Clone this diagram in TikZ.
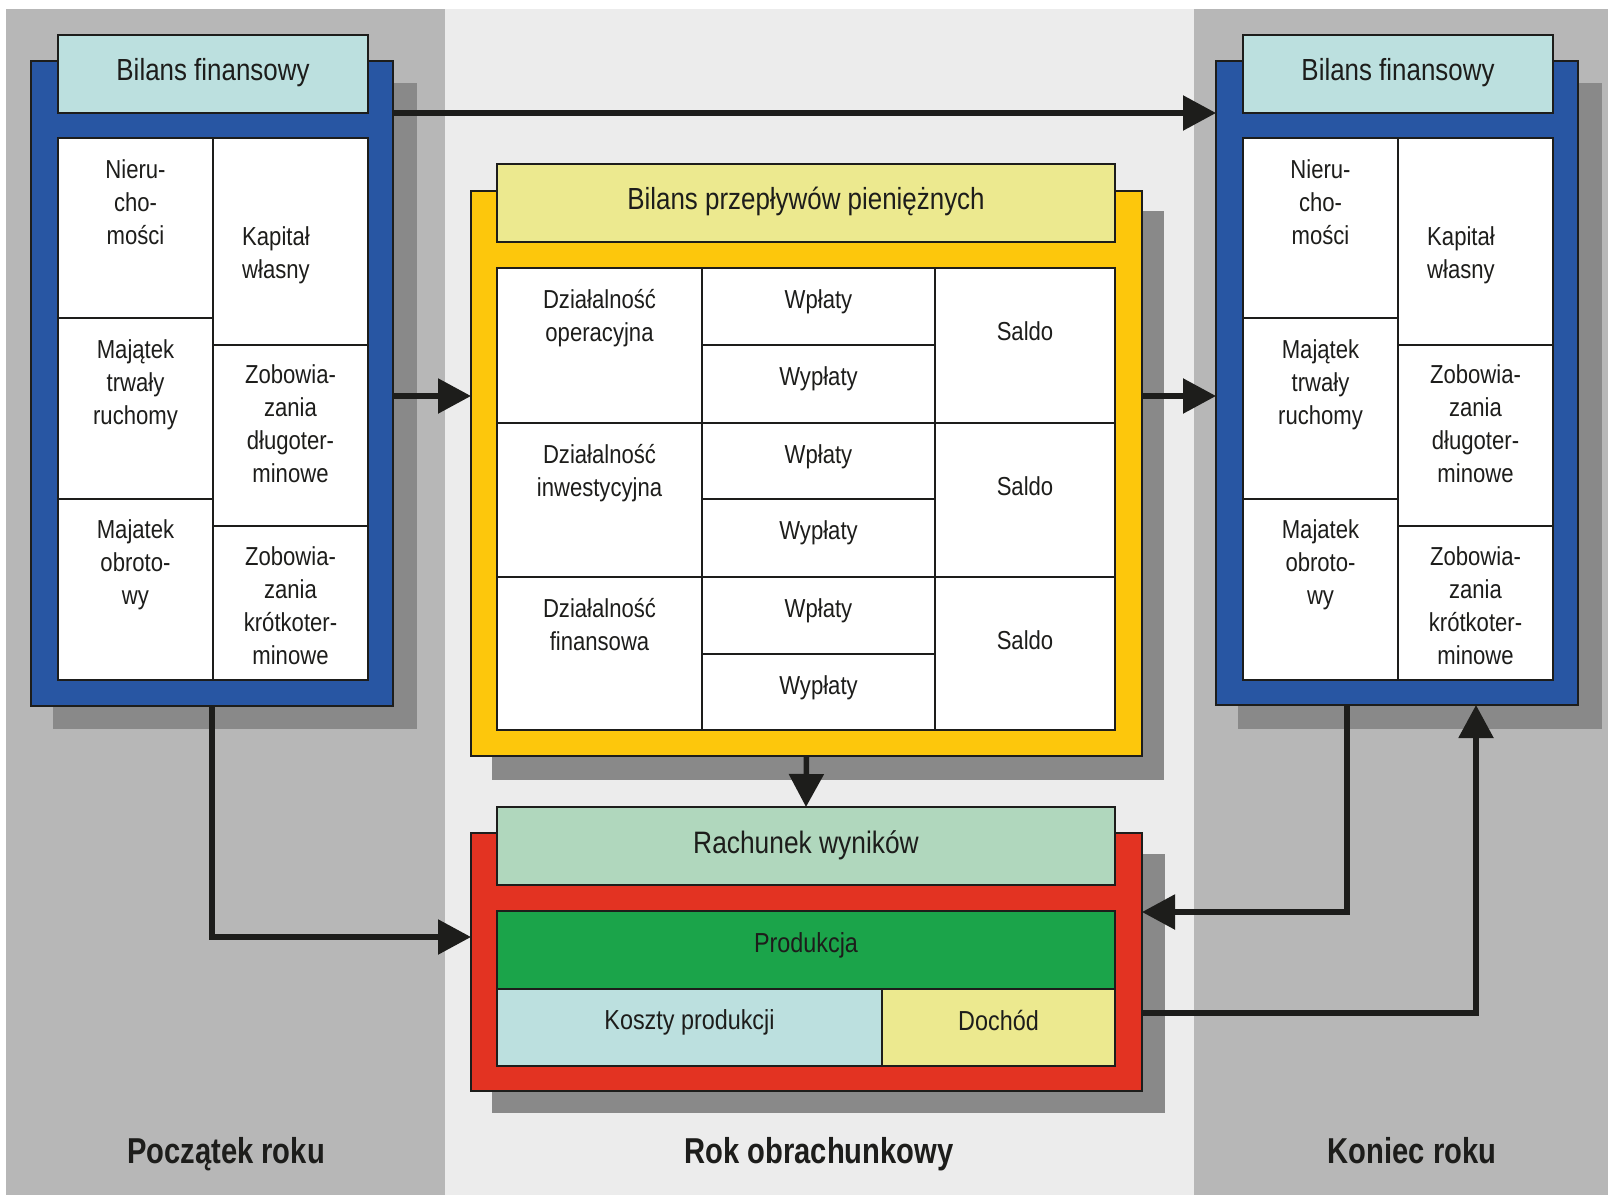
\documentclass[tikz,border=0pt]{standalone}
\usepackage{fontspec}
\setmainfont{Liberation Sans}[FakeStretch=0.85]
\newfontfamily\labelfont{Liberation Sans}[FakeStretch=0.81]
\usetikzlibrary{arrows.meta}
\definecolor{panelgray}{HTML}{B7B7B7}
\definecolor{panellight}{HTML}{ECECEC}
\definecolor{shadowgray}{HTML}{898989}
\definecolor{bilansblue}{HTML}{2856A3}
\definecolor{headteal}{HTML}{BCE0DF}
\definecolor{boxyellow}{HTML}{FDC70C}
\definecolor{headyellow}{HTML}{ECE98F}
\definecolor{boxred}{HTML}{E33322}
\definecolor{headgreen}{HTML}{B0D7BD}
\definecolor{prodgreen}{HTML}{1BA44A}
\definecolor{ink}{HTML}{1D1D1B}
\newcommand\mkbox[6][]{\node[#1, minimum width={(#5-#3)*1pt}, minimum height={(#6-#4)*1pt}] (#2) at ({(#3+#5)/2},{(#4+#6)/2}) {};}
\begin{document}
\begin{tikzpicture}[x=1pt,y=-1pt,
  frame/.style={draw=ink, line width=2.4pt, inner sep=0pt, outer sep=0pt},
  cellbox/.style={draw=ink, line width=2pt, fill=white, inner sep=0pt, outer sep=0pt},
  txt/.style={inner sep=0pt, outer sep=0pt, align=center, text=ink, anchor=north, font=\fontsize{26}{33}\selectfont},
  headtxt/.style={txt, font=\fontsize{30.5}{36}\selectfont},
  midtxt/.style={txt, font=\fontsize{27.5}{33}\selectfont},
  yeartxt/.style={txt, font=\labelfont\bfseries\fontsize{36}{40}\selectfont},
  conn/.style={draw=ink, line width=5.5pt, line join=miter},
  arr/.style={conn, -{Triangle[width=34pt,length=33pt]}}]
\useasboundingbox (0,0) rectangle (1608,1196);
\fill[white] (0,0) rectangle (1608,1196);
% panels
\fill[panelgray] (6,9) rectangle (445,1195);
\fill[panellight] (445,9) rectangle (1194,1195);
\fill[panelgray] (1194,9) rectangle (1608,1195);
% shadows
\fill[shadowgray] (53,83) rectangle (417,729);
\fill[shadowgray] (1238,83) rectangle (1602,729);
\fill[shadowgray] (492,211) rectangle (1164,780);
\fill[shadowgray] (492,854) rectangle (1165,1113);
% left balance
\mkbox[frame, fill=bilansblue]{lb}{31}{61}{393}{706}
\mkbox[frame, fill=headteal]{lbh}{58}{35}{368}{113}
\mkbox[cellbox]{lb1}{58}{138}{213}{318}
\mkbox[cellbox]{lb2}{58}{318}{213}{499}
\mkbox[cellbox]{lb3}{58}{499}{213}{680}
\mkbox[cellbox]{lb4}{213}{138}{368}{345}
\mkbox[cellbox]{lb5}{213}{345}{368}{526}
\mkbox[cellbox]{lb6}{213}{526}{368}{680}
% right balance
\mkbox[frame, fill=bilansblue]{rb}{1216}{61}{1578}{705}
\mkbox[frame, fill=headteal]{rbh}{1243}{35}{1553}{113}
\mkbox[cellbox]{rb1}{1243}{138}{1398}{318}
\mkbox[cellbox]{rb2}{1243}{318}{1398}{499}
\mkbox[cellbox]{rb3}{1243}{499}{1398}{680}
\mkbox[cellbox]{rb4}{1398}{138}{1553}{345}
\mkbox[cellbox]{rb5}{1398}{345}{1553}{526}
\mkbox[cellbox]{rb6}{1398}{526}{1553}{680}
% cash flow
\mkbox[frame, fill=boxyellow]{yb}{471}{191}{1142}{756}
\mkbox[frame, fill=headyellow]{ybh}{497}{164}{1115}{242}
\mkbox[cellbox]{d1}{497}{268}{702}{423}
\mkbox[cellbox]{w1}{702}{268}{935}{345}
\mkbox[cellbox]{v1}{702}{345}{935}{423}
\mkbox[cellbox]{s1}{935}{268}{1115}{423}
\mkbox[cellbox]{d2}{497}{423}{702}{577}
\mkbox[cellbox]{w2}{702}{423}{935}{499}
\mkbox[cellbox]{v2}{702}{499}{935}{577}
\mkbox[cellbox]{s2}{935}{423}{1115}{577}
\mkbox[cellbox]{d3}{497}{577}{702}{730}
\mkbox[cellbox]{w3}{702}{577}{935}{654}
\mkbox[cellbox]{v3}{702}{654}{935}{730}
\mkbox[cellbox]{s3}{935}{577}{1115}{730}
% income statement
\mkbox[frame, fill=boxred]{rdb}{471}{833}{1142}{1091}
\mkbox[frame, fill=headgreen]{rdh}{497}{807}{1115}{885}
\mkbox[frame, fill=prodgreen]{prod}{497}{911}{1115}{989}
\mkbox[frame, fill=headteal]{koszt}{497}{989}{882}{1066}
\mkbox[frame, fill=headyellow]{doch}{882}{989}{1115}{1066}
% connectors
\coordinate (m1) at (0,396);
\coordinate (m2) at (212,937);
\coordinate (m3) at (1347,912);
\coordinate (m4) at (1476,1013);
\draw[arr] (lb.east |- lbh.south) -- (rb.west |- lbh.south);
\draw[arr] (lb.east |- m1) -- (yb.west |- m1);
\draw[arr] (yb.east |- m1) -- (rb.west |- m1);
\draw[arr] (yb.south) -- (rdh.north);
\draw[arr] (lb.south) |- (rdb.west |- m2);
\draw[arr] (rb.south -| m3) |- (rdb.east |- m3);
\draw[arr] (rdb.east |- m4) -| (rb.south -| m4);
% texts left
\node[headtxt] at ([yshift=-23pt]lbh.north) {Bilans finansowy};
\node[txt] at ([yshift=-22pt]lb1.north) {Nieru-\\cho-\\mości};
\node[txt] at ([yshift=-22pt]lb2.north) {Majątek\\trwały\\ruchomy};
\node[txt] at ([yshift=-21pt]lb3.north) {Majatek\\obroto-\\wy};
\node[txt] at ([xshift=-14.5pt,yshift=-89pt]lb4.north) {Kapitał\\własny};
\node[txt] at ([yshift=-20pt]lb5.north) {Zobowia-\\zania\\długoter-\\minowe};
\node[txt] at ([yshift=-21pt]lb6.north) {Zobowia-\\zania\\krótkoter-\\minowe};
% texts right
\node[headtxt] at ([yshift=-23pt]rbh.north) {Bilans finansowy};
\node[txt] at ([yshift=-22pt]rb1.north) {Nieru-\\cho-\\mości};
\node[txt] at ([yshift=-22pt]rb2.north) {Majątek\\trwały\\ruchomy};
\node[txt] at ([yshift=-21pt]rb3.north) {Majatek\\obroto-\\wy};
\node[txt] at ([xshift=-14.5pt,yshift=-89pt]rb4.north) {Kapitał\\własny};
\node[txt] at ([yshift=-20pt]rb5.north) {Zobowia-\\zania\\długoter-\\minowe};
\node[txt] at ([yshift=-21pt]rb6.north) {Zobowia-\\zania\\krótkoter-\\minowe};
% texts cash flow
\node[headtxt] at ([yshift=-23pt]ybh.north) {Bilans przepływów pieniężnych};
\node[txt] at ([yshift=-21pt]d1.north) {Działalność\\operacyjna};
\node[txt] at ([yshift=-21pt]d2.north) {Działalność\\inwestycyjna};
\node[txt] at ([yshift=-21pt]d3.north) {Działalność\\finansowa};
\node[txt] at ([yshift=-22pt]w1.north) {Wpłaty};
\node[txt] at ([yshift=-22pt]w2.north) {Wpłaty};
\node[txt] at ([yshift=-22pt]w3.north) {Wpłaty};
\node[txt] at ([yshift=-22pt]v1.north) {Wypłaty};
\node[txt] at ([yshift=-22pt]v2.north) {Wypłaty};
\node[txt] at ([yshift=-22pt]v3.north) {Wypłaty};
\node[txt] at ([yshift=-54pt]s1.north) {Saldo};
\node[txt] at ([yshift=-54pt]s2.north) {Saldo};
\node[txt] at ([yshift=-54pt]s3.north) {Saldo};
% texts income
\node[txt, font=\fontsize{31}{35}\selectfont] at ([yshift=-24pt]rdh.north) {Rachunek wyników};
\node[midtxt] at ([yshift=-22pt]prod.north) {Produkcja};
\node[midtxt] at ([yshift=-21pt]koszt.north) {Koszty produkcji};
\node[midtxt] at ([yshift=-21pt]doch.north) {Dochód};
% year labels
\node[yeartxt] (y1) at (226,1137) {Początek roku};
\node[yeartxt] (y2) at (819,1137) {Rok obrachunkowy};
\node[yeartxt] (y3) at (1412,1137) {Koniec roku};
\end{tikzpicture}
\end{document}
